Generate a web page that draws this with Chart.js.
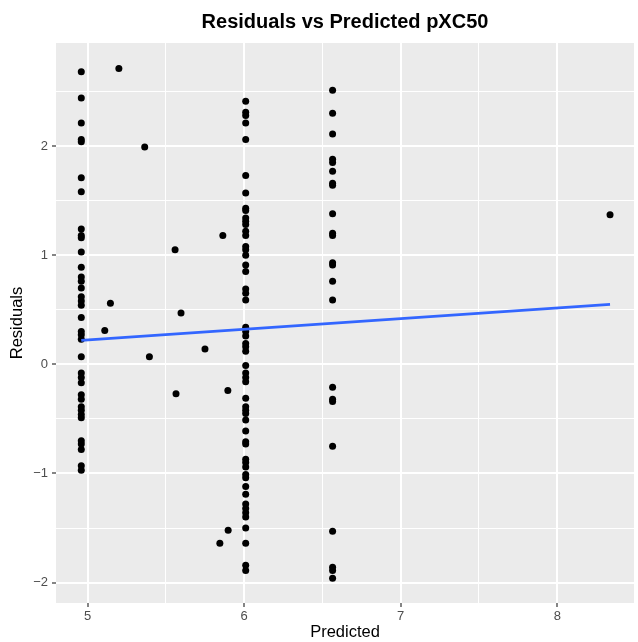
<!DOCTYPE html>
<html>
<head>
<meta charset="utf-8">
<script src="https://cdn.jsdelivr.net/npm/chart.js@4"></script>
<style>
html,body{margin:0;padding:0;background:#fff;}
#wrap{width:638px;height:642px;}
</style>
</head>
<body>
<div id="wrap"><canvas id="c" width="638" height="642"></canvas></div>
<script>
// Predicted value of each vertical column of points
const colPredA = 4.96;
const colPredB = 6.01;
const colPredC = 6.565;
// Residuals in each column
const residA = [2.68, 2.44, 2.21, 2.06, 2.04, 1.71, 1.58, 1.24, 1.18, 1.16, 1.03, 0.89, 0.80, 0.76, 0.70, 0.62, 0.58, 0.54, 0.43, 0.30, 0.27, 0.23, 0.07, -0.08, -0.12, -0.17, -0.28, -0.32, -0.39, -0.42, -0.46, -0.49, -0.70, -0.73, -0.78, -0.93, -0.97];
const residB = [2.41, 2.31, 2.28, 2.21, 2.06, 1.73, 1.57, 1.43, 1.41, 1.34, 1.31, 1.28, 1.22, 1.18, 1.08, 1.05, 1.00, 0.91, 0.85, 0.69, 0.65, 0.59, 0.34, 0.30, 0.26, 0.19, 0.16, 0.12, -0.01, -0.08, -0.12, -0.16, -0.31, -0.39, -0.42, -0.45, -0.51, -0.61, -0.71, -0.73, -0.87, -0.90, -0.94, -1.01, -1.04, -1.12, -1.19, -1.28, -1.32, -1.36, -1.40, -1.50, -1.64, -1.84, -1.89];
const residC = [2.51, 2.30, 2.11, 1.88, 1.85, 1.77, 1.66, 1.64, 1.38, 1.20, 1.18, 0.93, 0.91, 0.76, 0.59, -0.21, -0.32, -0.34, -0.75, -1.53, -1.86, -1.89, -1.96];
// Scattered points outside the columns
const otherPred = [5.20, 5.365, 5.864, 5.559, 5.146, 5.597, 5.11, 5.395, 5.75, 5.565, 5.896, 5.845, 5.898, 8.337];
const otherResid = [2.71, 1.99, 1.18, 1.05, 0.56, 0.47, 0.31, 0.07, 0.14, -0.27, -0.24, -1.64, -1.52, 1.37];
// Linear fit line
const fitPred = [4.96, 8.337];
const fitResid = [0.22, 0.55];
// Axis ticks
const xTicks = [5, 5.5, 6, 6.5, 7, 7.5, 8];
const yTicks = [-2, -1.5, -1, -0.5, 0, 0.5, 1, 1.5, 2, 2.5];
const chartTitle = 'Residuals vs Predicted pXC50';

const points = [];
residA.forEach(r => points.push({x: colPredA, y: r}));
residB.forEach(r => points.push({x: colPredB, y: r}));
residC.forEach(r => points.push({x: colPredC, y: r}));
otherPred.forEach((p, i) => points.push({x: p, y: otherResid[i]}));
const fitLine = fitPred.map((p, i) => ({x: p, y: fitResid[i]}));

const FONT = "'Liberation Sans', Arial, Helvetica, sans-serif";
const isMajor = v => Math.abs(v - Math.round(v)) < 1e-9;

const bgPlugin = {
  id: 'panelBg',
  beforeDraw(chart) {
    const a = chart.chartArea, ctx = chart.ctx;
    ctx.save();
    ctx.fillStyle = '#EBEBEB';
    ctx.fillRect(a.left, a.top, a.right - a.left, a.bottom - a.top);
    ctx.restore();
  },
  afterDraw(chart) {
    // title centred over the panel, as ggplot does
    const a = chart.chartArea, ctx = chart.ctx;
    ctx.save();
    ctx.fillStyle = '#000000';
    ctx.font = "bold 20px " + FONT;
    ctx.textAlign = 'center';
    ctx.textBaseline = 'middle';
    ctx.fillText(chartTitle, (a.left + a.right) / 2, 22);
    ctx.restore();
  }
};

function gridOpts() {
  return {
    drawOnChartArea: true,
    drawTicks: true,
    tickLength: 4,
    color: c => '#FFFFFF',
    lineWidth: c => (c.tick && isMajor(c.tick.value)) ? 2 : 1,
    tickColor: c => (c.tick && isMajor(c.tick.value)) ? '#333333' : 'rgba(0,0,0,0)',
    tickWidth: 1.2
  };
}

new Chart(document.getElementById('c'), {
  type: 'scatter',
  data: {
    datasets: [
      {
        type: 'line',
        data: fitLine,
        borderColor: '#3366FF',
        borderWidth: 2.8,
        pointRadius: 0,
        fill: false,
        order: 0
      },
      {
        data: points,
        backgroundColor: '#000000',
        borderColor: '#000000',
        pointRadius: 3.5,
        pointBorderWidth: 0,
        order: 1
      }
    ]
  },
  plugins: [bgPlugin],
  options: {
    responsive: false,
    animation: false,
    events: [],
    layout: {padding: {left: 0, right: 1, top: 43, bottom: 0}},
    plugins: {
      legend: {display: false},
      tooltip: {enabled: false},
      title: {display: false}
    },
    scales: {
      x: {
        type: 'linear',
        min: 4.7985,
        max: 8.49,
        afterBuildTicks: s => { s.ticks = xTicks.map(v => ({value: v})); },
        afterFit: s => { s.height = 39; },
        border: {display: false},
        grid: gridOpts(),
        ticks: {
          autoSkip: false,
          maxRotation: 0,
          padding: 2,
          color: '#4D4D4D',
          font: {family: FONT, size: 13},
          callback: v => isMajor(v) ? String(v) : ''
        },
        title: {
          display: true,
          text: 'Predicted',
          color: '#000000',
          font: {family: FONT, size: 16.5, lineHeight: 1.2},
          padding: {top: 0, bottom: 0}
        }
      },
      y: {
        type: 'linear',
        min: -2.187,
        max: 2.944,
        afterBuildTicks: s => { s.ticks = yTicks.map(v => ({value: v})); },
        afterFit: s => { s.width = 56; },
        border: {display: false},
        grid: gridOpts(),
        ticks: {
          autoSkip: false,
          padding: 4,
          color: '#4D4D4D',
          font: {family: FONT, size: 13},
          callback: v => isMajor(v) ? (v < 0 ? '\u2212' + Math.abs(v) : String(v)) : ''
        },
        title: {
          display: true,
          text: 'Residuals',
          color: '#000000',
          font: {family: FONT, size: 16.5, lineHeight: 1.2},
          padding: {top: 8, bottom: 0}
        }
      }
    }
  }
});
</script>
</body>
</html>
